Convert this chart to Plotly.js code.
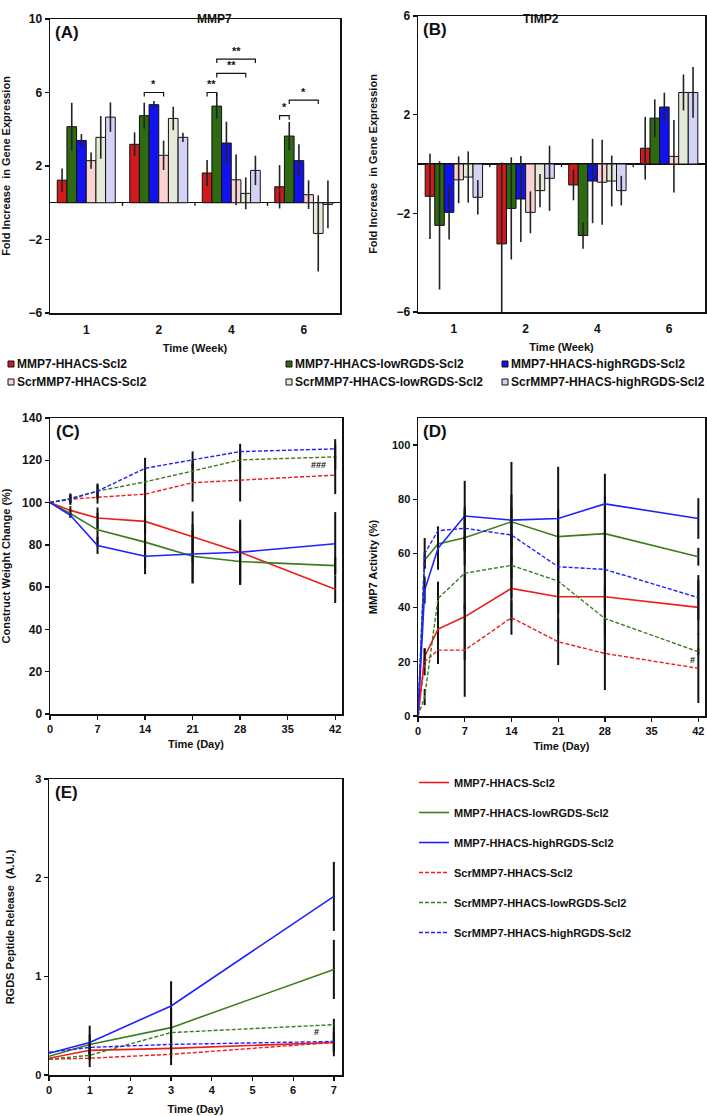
<!DOCTYPE html>
<html>
<head>
<meta charset="utf-8">
<script src="https://cdn.plot.ly/plotly-3.0.1.min.js"></script>
<style>html,body{margin:0;padding:0;background:#fff}</style>
</head>
<body>
<div id="chart" style="width:707px;height:1116px"></div>
<script>
'use strict';

// groups, in the order the bars and lines are drawn
const seriesNames = [
  'MMP7-HHACS-Scl2', 'MMP7-HHACS-lowRGDS-Scl2', 'MMP7-HHACS-highRGDS-Scl2',
  'ScrMMP7-HHACS-Scl2', 'ScrMMP7-HHACS-lowRGDS-Scl2', 'ScrMMP7-HHACS-highRGDS-Scl2'
];
const weekLabels = ['1', '2', '4', '6'];
const weekPos = [0, 1, 2, 3];

// (A) MMP7 fold increase, one row per group
const mmp7Mean = [
  [1.23, 3.18, 1.62, 0.87],
  [4.14, 4.74, 5.26, 3.63],
  [3.39, 5.34, 3.25, 2.29],
  [2.29, 2.58, 1.25, 0.44],
  [3.56, 4.59, 0.51, -1.67],
  [4.66, 3.56, 1.76, -0.09]
];
const mmp7Err = [
  [0.63, 0.65, 0.71, 1.18],
  [1.3, 0.71, 0.69, 0.76],
  [0.35, 0.2, 1.16, 0.89],
  [0.44, 0.8, 1.38, 0.78],
  [1.16, 0.64, 0.87, 2.07],
  [0.8, 0.25, 0.8, 1.3]
];

// (B) TIMP2 fold increase
const timp2Mean = [
  [-1.31, -3.24, -0.85, 0.64],
  [-2.49, -1.8, -2.9, 1.86],
  [-1.96, -1.42, -0.69, 2.31],
  [-0.64, -1.96, -0.74, 0.31],
  [-0.53, -1.08, -0.69, 2.9],
  [-1.35, -0.58, -1.08, 2.9]
];
const timp2Err = [
  [1.73, 3.3, 0.62, 1.27],
  [2.6, 2.07, 0.54, 0.76],
  [1.1, 1.74, 1.71, 0.58],
  [0.95, 0.85, 1.72, 1.47],
  [1.04, 0.67, 1.03, 0.73],
  [0.7, 1.32, 0.6, 1.03]
];

// significance brackets in (A): week index, from bar, to bar, height, label
const sigWeek = [1, 2, 2, 2, 3, 3];
const sigFrom = [1, 0, 1, 1, 0, 1];
const sigTo = [3, 1, 4, 5, 1, 4];
const sigY = [6.0, 6.0, 7.04, 7.82, 4.74, 5.59];
const sigText = ['*', '**', '**', '**', '*', '*'];

// (C) construct weight change
const weightDays = [0, 3, 7, 14, 21, 28, 42];
const weightMean = [
  [100, 96.3, 92.7, 91.1, 83.8, 76.5, 59],
  [100, 94.8, 87.1, 81.3, 74.6, 72.1, 70.2],
  [100, 94, 79.7, 74.6, 75.7, 76.5, 80.5],
  [100, 101.6, 102.5, 104, 109.4, 110.5, 113],
  [100, 102, 105.4, 109.8, 114.9, 120.2, 121.6],
  [100, 101.6, 105.4, 116.2, 120.2, 124.1, 125.4]
];
const weightErr = [
  [0, 2, 5, 6, 12, 14, 6.5],
  [0, 2, 8, 12, 12.5, 11, 4],
  [0, 1, 4, 8.5, 14, 15.4, 15],
  [0, 2, 3, 7, 9, 10, 9],
  [0, 2, 3, 5, 5, 5, 6],
  [0, 2.7, 3.6, 5, 4, 3.7, 4.6]
];

// (D) MMP7 activity
const activityDays = [0, 1, 3, 7, 14, 21, 28, 42];
const activityMean = [
  [0, 21.9, 32.1, 36.6, 47.1, 44, 44, 40.1],
  [0, 57.6, 63.5, 65.8, 71.7, 66.2, 67.3, 58.8],
  [0, 46.5, 61.9, 73.8, 72.3, 72.9, 78.3, 72.9],
  [0, 20, 24.3, 24.3, 36.3, 27.4, 23.1, 17.6],
  [0, 7, 43.4, 52.7, 55.6, 49.8, 36, 23.7],
  [0, 60, 68.4, 69.3, 66.8, 55.1, 54.1, 43.7]
];
const activityErr = [
  [0, 3, 8, 16, 12, 14, 14, 10],
  [0, 3, 5, 10, 10, 10, 14, 3.3],
  [0, 5, 7.9, 13, 21.5, 19.1, 11.1, 7.5],
  [0, 5, 5.1, 17.2, 6.3, 8.6, 13.5, 12.8],
  [0, 3, 6.2, 14, 12, 12, 12, 1.2],
  [0, 5.7, 1.6, 8, 10, 10, 14, 8.3]
];

// (E) RGDS peptide release
const releaseDays = [0, 1, 3, 7];
const releaseMean = [
  [0.17, 0.25, 0.27, 0.33],
  [0.19, 0.31, 0.48, 1.07],
  [0.22, 0.33, 0.70, 1.81],
  [0.16, 0.17, 0.21, 0.33],
  [0.16, 0.20, 0.43, 0.51],
  [0.23, 0.28, 0.31, 0.34]
];
const releaseErr = [
  [0, 0.05, 0.1, 0.1],
  [0, 0.1, 0.2, 0.3],
  [0, 0.17, 0.25, 0.35],
  [0, 0.09, 0.11, 0.14],
  [0, 0.05, 0.1, 0.06],
  [0, 0.05, 0.1, 0.1]
];

const FONT = 'Liberation Sans, Arial, sans-serif';
const W = 707, H = 1116;
const BARGAP = 0.2;
const barColors = ['#d01a1e', '#2e6a12', '#1212ee', '#fbd2d2', '#e3ead8', '#d3d3f6'];
const lineColors = ['#ee1c1c', '#3b7d1a', '#1f1fff', '#ee1c1c', '#3b7d1a', '#1f1fff'];
const lineDash = ['solid', 'solid', 'solid', '4px,2px', '4px,2px', '4px,2px'];

const px = x => x / W;
const py = y => 1 - y / H;
const bold = (size) => ({family: FONT, size: size, color: '#111', weight: 'bold'});

const data = [];

// bar panels
[[mmp7Mean, mmp7Err, 'x', 'y'], [timp2Mean, timp2Err, 'x2', 'y2']].forEach(([means, errs, xa, ya]) => {
  means.forEach((row, i) => {
    data.push({
      type: 'bar', x: weekPos, y: row, name: seriesNames[i], showlegend: false,
      xaxis: xa, yaxis: ya,
      marker: {color: barColors[i], line: {color: '#111', width: 1}},
      error_y: {type: 'data', array: errs[i], color: '#222', thickness: 1.6, width: 0}
    });
  });
});

// line panels, only (C) shows in the legend
[[weightDays, weightMean, weightErr, 'x3', 'y3'],
 [activityDays, activityMean, activityErr, 'x4', 'y4'],
 [releaseDays, releaseMean, releaseErr, 'x5', 'y5']].forEach(([days, means, errs, xa, ya], p) => {
  means.forEach((row, i) => {
    data.push({
      type: 'scatter', mode: 'lines', x: days, y: row, name: seriesNames[i],
      xaxis: xa, yaxis: ya, legend: 'legend', legendgroup: 'g' + i, showlegend: p === 0,
      line: {color: lineColors[i], width: i < 3 ? 1.6 : 1.4, dash: lineDash[i]},
      error_y: {type: 'data', array: errs[i], color: '#111', thickness: 2, width: 0}
    });
  });
});

function frame(extra) {
  return Object.assign({
    showline: true, mirror: true, linecolor: '#111', linewidth: 1.5,
    showgrid: false, zeroline: false, ticks: 'outside', ticklen: 4, tickwidth: 1.3,
    tickcolor: '#111', tickfont: bold(11)
  }, extra);
}
const axTitle = (text, standoff) => ({text: text, font: bold(11), standoff: standoff});

const weekAxis = (dom, anchor) => frame({
  domain: dom, anchor: anchor, range: [-0.5, 3.5], tickvals: weekPos, ticktext: weekLabels,
  ticks: '', tickfont: bold(12), ticklabelstandoff: 5, title: axTitle('Time (Week)', 8)
});
const foldAxis = (dom, anchor, range) => frame({
  domain: dom, anchor: anchor, range: range, dtick: 4, tick0: 2, tickfont: bold(12),
  zeroline: true, zerolinecolor: '#111', zerolinewidth: 1.3,
  title: axTitle('Fold Increase  in Gene Expression', 16)
});
const dayAxis = (dom, anchor, range, dtick, standoff) => frame({
  domain: dom, anchor: anchor, range: range, dtick: dtick, tick0: 0,
  title: axTitle('Time (Day)', standoff)
});

const shapes = [];
const annotations = [];

// small ticks on the zero line between week groups
[['x', 'y', 0.17], ['x2', 'y2', 0.13]].forEach(([xa, ya, len]) => {
  weekPos.slice(1).forEach(g => shapes.push({
    type: 'line', xref: xa, yref: ya, x0: g - 0.5, x1: g - 0.5, y0: 0, y1: -len,
    line: {color: '#111', width: 1.3}
  }));
});

// brackets over the MMP7 bars, placed from the group offsets
const barW = (1 - BARGAP) / 6;
const barX = (g, i) => g + (i - 2.5) * barW;
sigWeek.forEach((g, k) => {
  const x0 = barX(g, sigFrom[k]), x1 = barX(g, sigTo[k]), y = sigY[k], d = 0.22;
  shapes.push({
    type: 'path', xref: 'x', yref: 'y',
    path: `M${x0},${y - d} L${x0},${y} L${x1},${y} L${x1},${y - d}`,
    line: {color: '#111', width: 1.2}
  });
  annotations.push({
    xref: 'x', yref: 'y', x: (x0 + x1) / 2, y: y + 0.02, text: sigText[k],
    showarrow: false, yanchor: 'bottom', font: bold(11)
  });
});

// panel letters and headings
[['(A)', 'x', 'y'], ['(B)', 'x2', 'y2'], ['(C)', 'x3', 'y3'], ['(D)', 'x4', 'y4'], ['(E)', 'x5', 'y5']]
  .forEach(([t, xa, ya]) => annotations.push({
    xref: xa + ' domain', yref: ya + ' domain', x: 0.012, y: 0.992, xanchor: 'left', yanchor: 'top',
    text: t, showarrow: false, font: bold(17)
  }));
annotations.push({xref: 'paper', yref: 'paper', x: px(195), y: py(10), text: 'MMP7', showarrow: false, font: bold(12)});
annotations.push({xref: 'paper', yref: 'paper', x: px(561), y: py(10), text: 'TIMP2', showarrow: false, font: bold(12)});

// marks of significance on the line panels
annotations.push({xref: 'x3', yref: 'y3', x: 39.5, y: 118, text: '###', showarrow: false, font: bold(9)});
annotations.push({xref: 'x4', yref: 'y4', x: 41.2, y: 20.5, text: '#', showarrow: false, font: bold(9)});
annotations.push({xref: 'x5', yref: 'y5', x: 6.57, y: 0.44, text: '#', showarrow: false, font: bold(9)});

// key for the bars, three columns by two rows
const keyCol = [8, 286, 502];
const keyRow = [364, 382];
seriesNames.forEach((name, i) => {
  const x = keyCol[i % 3], y = keyRow[Math.floor(i / 3)];
  shapes.push({
    type: 'rect', xref: 'paper', yref: 'paper',
    x0: px(x), x1: px(x + 6), y0: py(y + 3), y1: py(y - 3),
    fillcolor: barColors[i], line: {color: '#111', width: 1}
  });
  annotations.push({
    xref: 'paper', yref: 'paper', x: px(x + 7), y: py(y), xanchor: 'left', yanchor: 'middle',
    text: name, showarrow: false, font: bold(12)
  });
});

const layout = {
  width: W, height: H,
  margin: {l: 0, r: 0, t: 0, b: 0},
  paper_bgcolor: '#fff', plot_bgcolor: '#fff',
  barmode: 'group', bargap: BARGAP, bargroupgap: 0,
  font: {family: FONT, color: '#111'},
  showlegend: true,
  legend: {
    x: px(414), y: py(768), xanchor: 'left', yanchor: 'top', bgcolor: 'rgba(0,0,0,0)',
    font: bold(11), tracegroupgap: 11, itemclick: false
  },
  xaxis: weekAxis([px(50), px(340)], 'y'),
  yaxis: foldAxis([py(313), py(19)], 'x', [-6, 10]),
  xaxis2: weekAxis([px(418), px(705)], 'y2'),
  yaxis2: foldAxis([py(312), py(16)], 'x2', [-6, 6]),
  xaxis3: dayAxis([px(50), px(342)], 'y3', [0, 43], 7, 6),
  yaxis3: frame({domain: [py(714), py(418)], anchor: 'x3', range: [0, 140], dtick: 20, tickfont: bold(12),
    title: axTitle('Construct Weight Change (%)', 12)}),
  xaxis4: dayAxis([px(418), px(705)], 'y4', [0, 43], 7, 6),
  yaxis4: frame({domain: [py(716), py(418)], anchor: 'x4', range: [0, 110], tickvals: [0, 20, 40, 60, 80, 100],
    title: axTitle('MMP7 Activity (%)', 12)}),
  xaxis5: dayAxis([px(49), px(342)], 'y5', [0, 7.2], 1, 10),
  yaxis5: frame({domain: [py(1075), py(779)], anchor: 'x5', range: [0, 3], dtick: 1,
    title: axTitle('RGDS Peptide Release  (A.U.)', 18)}),
  shapes: shapes,
  annotations: annotations
};

Plotly.newPlot('chart', data, layout, {displayModeBar: false, staticPlot: true});
</script>
</body>
</html>
